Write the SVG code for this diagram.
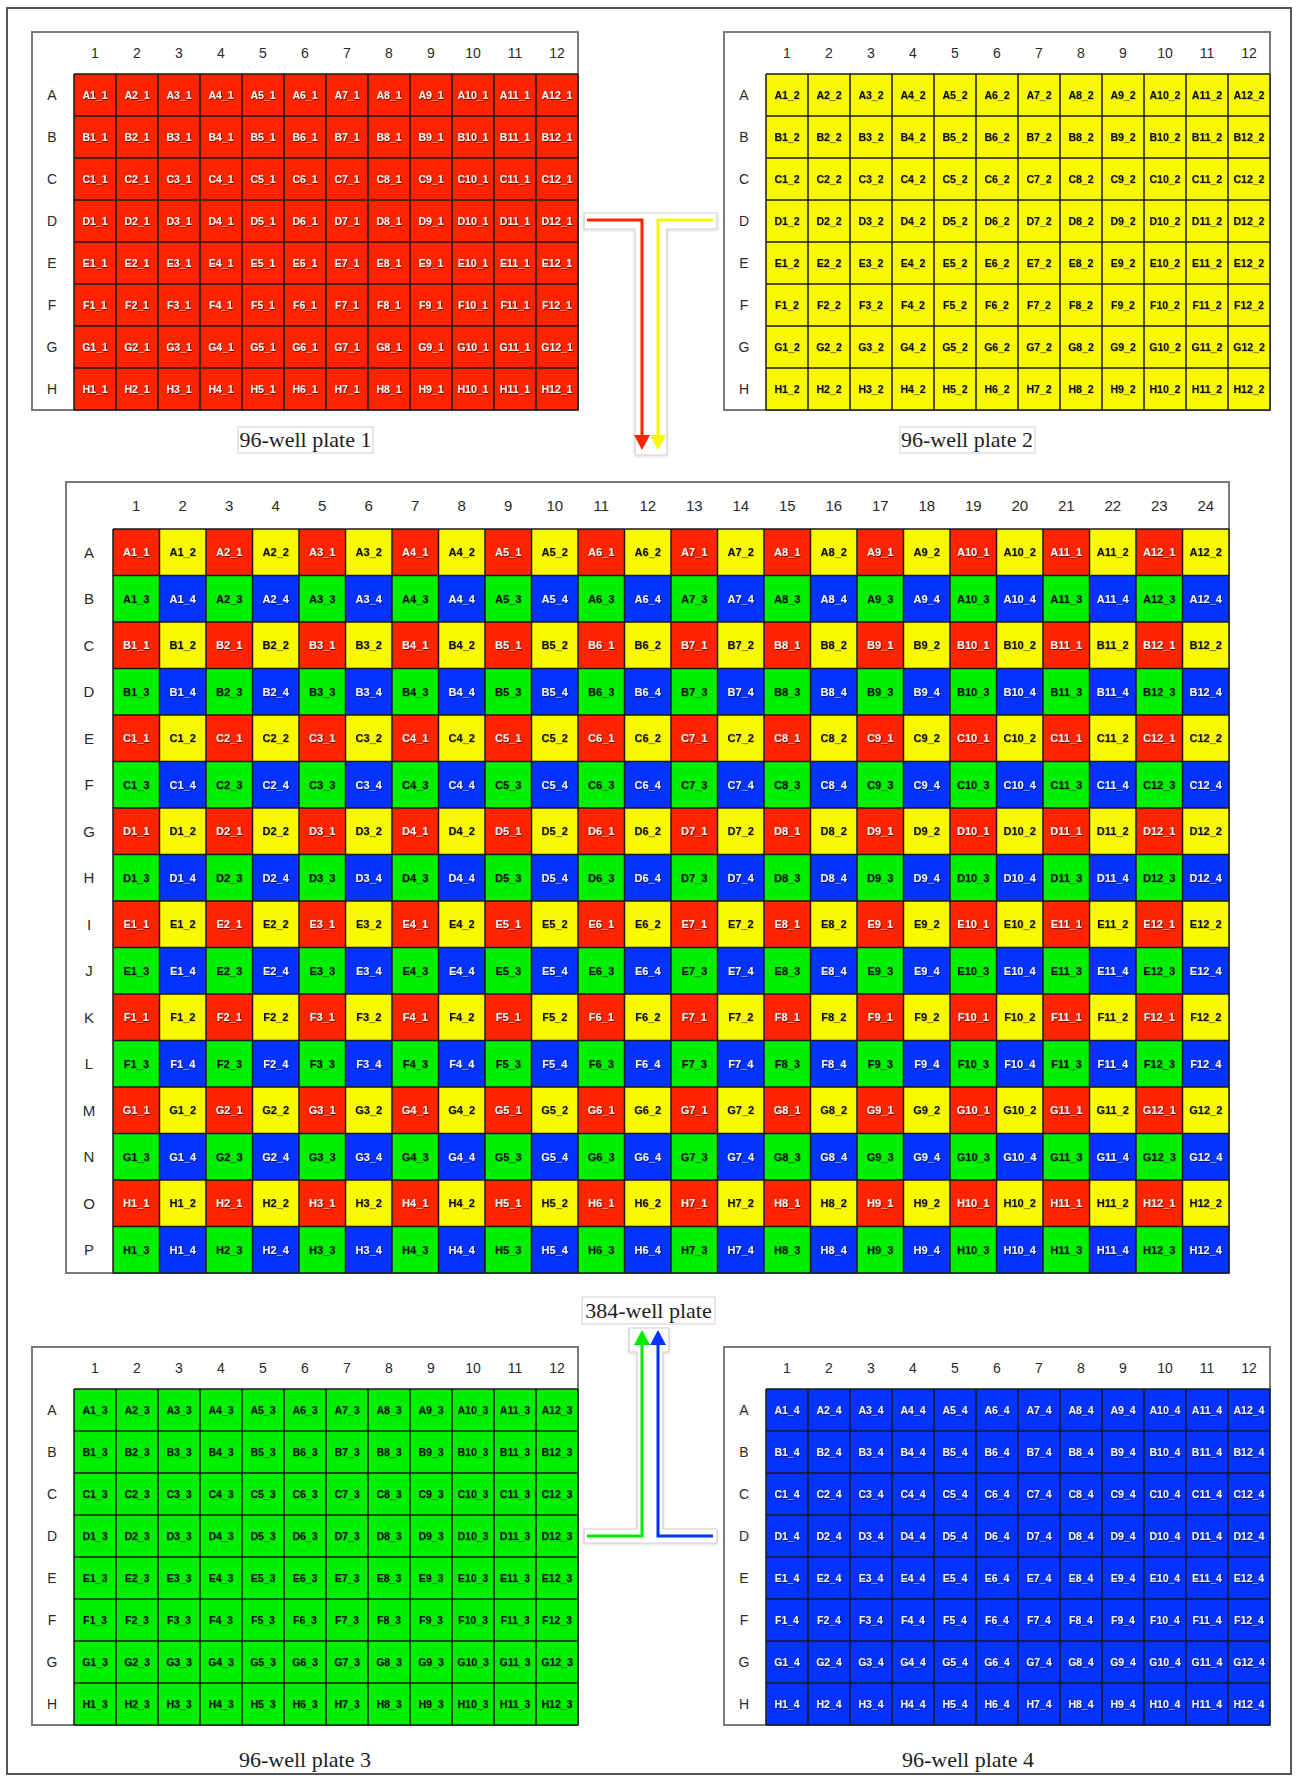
<svg xmlns="http://www.w3.org/2000/svg" xmlns:xlink="http://www.w3.org/1999/xlink" width="1297" height="1780" viewBox="0 0 1297 1780">
<style>
.hd{font-family:"Liberation Sans",Arial,sans-serif;font-size:14px;fill:#2a2a2a;text-anchor:middle}
.hd15{font-size:15px}
.c96{font-family:"Liberation Sans",Arial,sans-serif;font-size:10.5px;font-weight:bold;text-anchor:middle}
.c384{font-family:"Liberation Sans",Arial,sans-serif;font-size:11px;font-weight:bold;text-anchor:middle}
.lt{fill:#f0f0f0}
.dk{fill:#111}
.box{fill:#fff;stroke:#7a7a7a;stroke-width:2}
.grid{fill:none;stroke:#1a1a1a;stroke-width:1.5}
.lab{font-family:"Liberation Serif","Times New Roman",serif;font-size:22px;fill:#1e1e1e;text-anchor:middle}
.labbox{fill:#fff;stroke:#cfcfcf;stroke-width:1}
.halo{fill:#fff;stroke:#d0d0d0;stroke-width:1.2}
.arr{fill:none;stroke-width:3}
</style>
<defs>
<filter id="shd" x="-5%" y="-5%" width="110%" height="110%"><feDropShadow dx="0.8" dy="0.8" stdDeviation="0.6" flood-color="#000" flood-opacity="0.75"/></filter>
<filter id="shl" x="-5%" y="-5%" width="110%" height="110%"><feDropShadow dx="0.5" dy="0.5" stdDeviation="0.5" flood-color="#000" flood-opacity="0.35"/></filter>
<filter id="hs" x="-20%" y="-5%" width="140%" height="110%"><feDropShadow dx="0" dy="1" stdDeviation="1.5" flood-color="#000" flood-opacity="0.15"/></filter>
<marker id="mr" viewBox="0 0 15 16" refX="5" refY="8" markerWidth="15" markerHeight="16" markerUnits="userSpaceOnUse" orient="auto"><path d="M0 0L15 8L0 16Z" fill="#ff2400"/></marker>
<marker id="my" viewBox="0 0 15 16" refX="5" refY="8" markerWidth="15" markerHeight="16" markerUnits="userSpaceOnUse" orient="auto"><path d="M0 0L15 8L0 16Z" fill="#f8f800"/></marker>
<marker id="mg" viewBox="0 0 15 16" refX="5" refY="8" markerWidth="15" markerHeight="16" markerUnits="userSpaceOnUse" orient="auto"><path d="M0 0L15 8L0 16Z" fill="#00ec00"/></marker>
<marker id="mb" viewBox="0 0 15 16" refX="5" refY="8" markerWidth="15" markerHeight="16" markerUnits="userSpaceOnUse" orient="auto"><path d="M0 0L15 8L0 16Z" fill="#0433ff"/></marker>
<pattern id="p384" patternUnits="userSpaceOnUse" x="0" y="0" width="93" height="93">
<rect x="0" y="0" width="46.5" height="46.5" fill="#ff2400"/>
<rect x="46.5" y="0" width="46.5" height="46.5" fill="#f8f800"/>
<rect x="0" y="46.5" width="46.5" height="46.5" fill="#00f000"/>
<rect x="46.5" y="46.5" width="46.5" height="46.5" fill="#0433ff"/>
</pattern>
<g id="frame96">
<rect class="box" x="32" y="32" width="546" height="378"/>
<text class="hd" y="58"><tspan x="95">1</tspan><tspan x="137">2</tspan><tspan x="179">3</tspan><tspan x="221">4</tspan><tspan x="263">5</tspan><tspan x="305">6</tspan><tspan x="347">7</tspan><tspan x="389">8</tspan><tspan x="431">9</tspan><tspan x="473">10</tspan><tspan x="515">11</tspan><tspan x="557">12</tspan></text>
<text class="hd"><tspan x="52" y="100">A</tspan><tspan x="52" y="142">B</tspan><tspan x="52" y="184">C</tspan><tspan x="52" y="226">D</tspan><tspan x="52" y="268">E</tspan><tspan x="52" y="310">F</tspan><tspan x="52" y="352">G</tspan><tspan x="52" y="394">H</tspan></text>
</g>
<path id="g96" class="grid" d="M74 74V410M116 74V410M158 74V410M200 74V410M242 74V410M284 74V410M326 74V410M368 74V410M410 74V410M452 74V410M494 74V410M536 74V410M578 74V410M74 74H578M74 116H578M74 158H578M74 200H578M74 242H578M74 284H578M74 326H578M74 368H578M74 410H578"/>
</defs>
<rect x="0" y="0" width="1297" height="1780" fill="#fff"/>
<rect x="7" y="8" width="1284" height="1766" fill="none" stroke="#555" stroke-width="2"/>

<g id="plate1">
<use href="#frame96"/>
<rect x="74" y="74" width="504" height="336" fill="#ff2400"/>
<use href="#g96"/>
<g class="c96 lt" filter="url(#shd)">
<text y="98.5"><tspan x="95">A1_1</tspan><tspan x="137">A2_1</tspan><tspan x="179">A3_1</tspan><tspan x="221">A4_1</tspan><tspan x="263">A5_1</tspan><tspan x="305">A6_1</tspan><tspan x="347">A7_1</tspan><tspan x="389">A8_1</tspan><tspan x="431">A9_1</tspan><tspan x="473">A10_1</tspan><tspan x="515">A11_1</tspan><tspan x="557">A12_1</tspan></text>
<text y="140.5"><tspan x="95">B1_1</tspan><tspan x="137">B2_1</tspan><tspan x="179">B3_1</tspan><tspan x="221">B4_1</tspan><tspan x="263">B5_1</tspan><tspan x="305">B6_1</tspan><tspan x="347">B7_1</tspan><tspan x="389">B8_1</tspan><tspan x="431">B9_1</tspan><tspan x="473">B10_1</tspan><tspan x="515">B11_1</tspan><tspan x="557">B12_1</tspan></text>
<text y="182.5"><tspan x="95">C1_1</tspan><tspan x="137">C2_1</tspan><tspan x="179">C3_1</tspan><tspan x="221">C4_1</tspan><tspan x="263">C5_1</tspan><tspan x="305">C6_1</tspan><tspan x="347">C7_1</tspan><tspan x="389">C8_1</tspan><tspan x="431">C9_1</tspan><tspan x="473">C10_1</tspan><tspan x="515">C11_1</tspan><tspan x="557">C12_1</tspan></text>
<text y="224.5"><tspan x="95">D1_1</tspan><tspan x="137">D2_1</tspan><tspan x="179">D3_1</tspan><tspan x="221">D4_1</tspan><tspan x="263">D5_1</tspan><tspan x="305">D6_1</tspan><tspan x="347">D7_1</tspan><tspan x="389">D8_1</tspan><tspan x="431">D9_1</tspan><tspan x="473">D10_1</tspan><tspan x="515">D11_1</tspan><tspan x="557">D12_1</tspan></text>
<text y="266.5"><tspan x="95">E1_1</tspan><tspan x="137">E2_1</tspan><tspan x="179">E3_1</tspan><tspan x="221">E4_1</tspan><tspan x="263">E5_1</tspan><tspan x="305">E6_1</tspan><tspan x="347">E7_1</tspan><tspan x="389">E8_1</tspan><tspan x="431">E9_1</tspan><tspan x="473">E10_1</tspan><tspan x="515">E11_1</tspan><tspan x="557">E12_1</tspan></text>
<text y="308.5"><tspan x="95">F1_1</tspan><tspan x="137">F2_1</tspan><tspan x="179">F3_1</tspan><tspan x="221">F4_1</tspan><tspan x="263">F5_1</tspan><tspan x="305">F6_1</tspan><tspan x="347">F7_1</tspan><tspan x="389">F8_1</tspan><tspan x="431">F9_1</tspan><tspan x="473">F10_1</tspan><tspan x="515">F11_1</tspan><tspan x="557">F12_1</tspan></text>
<text y="350.5"><tspan x="95">G1_1</tspan><tspan x="137">G2_1</tspan><tspan x="179">G3_1</tspan><tspan x="221">G4_1</tspan><tspan x="263">G5_1</tspan><tspan x="305">G6_1</tspan><tspan x="347">G7_1</tspan><tspan x="389">G8_1</tspan><tspan x="431">G9_1</tspan><tspan x="473">G10_1</tspan><tspan x="515">G11_1</tspan><tspan x="557">G12_1</tspan></text>
<text y="392.5"><tspan x="95">H1_1</tspan><tspan x="137">H2_1</tspan><tspan x="179">H3_1</tspan><tspan x="221">H4_1</tspan><tspan x="263">H5_1</tspan><tspan x="305">H6_1</tspan><tspan x="347">H7_1</tspan><tspan x="389">H8_1</tspan><tspan x="431">H9_1</tspan><tspan x="473">H10_1</tspan><tspan x="515">H11_1</tspan><tspan x="557">H12_1</tspan></text>
</g>
<rect class="labbox" x="238" y="427" width="135" height="26"/>
<text class="lab" x="305.5" y="447">96-well plate 1</text>
</g>

<g id="plate2" transform="translate(692,0)">
<use href="#frame96"/>
<rect x="74" y="74" width="504" height="336" fill="#f8f800"/>
<use href="#g96"/>
<g class="c96 dk" filter="url(#shl)">
<text y="98.5"><tspan x="95">A1_2</tspan><tspan x="137">A2_2</tspan><tspan x="179">A3_2</tspan><tspan x="221">A4_2</tspan><tspan x="263">A5_2</tspan><tspan x="305">A6_2</tspan><tspan x="347">A7_2</tspan><tspan x="389">A8_2</tspan><tspan x="431">A9_2</tspan><tspan x="473">A10_2</tspan><tspan x="515">A11_2</tspan><tspan x="557">A12_2</tspan></text>
<text y="140.5"><tspan x="95">B1_2</tspan><tspan x="137">B2_2</tspan><tspan x="179">B3_2</tspan><tspan x="221">B4_2</tspan><tspan x="263">B5_2</tspan><tspan x="305">B6_2</tspan><tspan x="347">B7_2</tspan><tspan x="389">B8_2</tspan><tspan x="431">B9_2</tspan><tspan x="473">B10_2</tspan><tspan x="515">B11_2</tspan><tspan x="557">B12_2</tspan></text>
<text y="182.5"><tspan x="95">C1_2</tspan><tspan x="137">C2_2</tspan><tspan x="179">C3_2</tspan><tspan x="221">C4_2</tspan><tspan x="263">C5_2</tspan><tspan x="305">C6_2</tspan><tspan x="347">C7_2</tspan><tspan x="389">C8_2</tspan><tspan x="431">C9_2</tspan><tspan x="473">C10_2</tspan><tspan x="515">C11_2</tspan><tspan x="557">C12_2</tspan></text>
<text y="224.5"><tspan x="95">D1_2</tspan><tspan x="137">D2_2</tspan><tspan x="179">D3_2</tspan><tspan x="221">D4_2</tspan><tspan x="263">D5_2</tspan><tspan x="305">D6_2</tspan><tspan x="347">D7_2</tspan><tspan x="389">D8_2</tspan><tspan x="431">D9_2</tspan><tspan x="473">D10_2</tspan><tspan x="515">D11_2</tspan><tspan x="557">D12_2</tspan></text>
<text y="266.5"><tspan x="95">E1_2</tspan><tspan x="137">E2_2</tspan><tspan x="179">E3_2</tspan><tspan x="221">E4_2</tspan><tspan x="263">E5_2</tspan><tspan x="305">E6_2</tspan><tspan x="347">E7_2</tspan><tspan x="389">E8_2</tspan><tspan x="431">E9_2</tspan><tspan x="473">E10_2</tspan><tspan x="515">E11_2</tspan><tspan x="557">E12_2</tspan></text>
<text y="308.5"><tspan x="95">F1_2</tspan><tspan x="137">F2_2</tspan><tspan x="179">F3_2</tspan><tspan x="221">F4_2</tspan><tspan x="263">F5_2</tspan><tspan x="305">F6_2</tspan><tspan x="347">F7_2</tspan><tspan x="389">F8_2</tspan><tspan x="431">F9_2</tspan><tspan x="473">F10_2</tspan><tspan x="515">F11_2</tspan><tspan x="557">F12_2</tspan></text>
<text y="350.5"><tspan x="95">G1_2</tspan><tspan x="137">G2_2</tspan><tspan x="179">G3_2</tspan><tspan x="221">G4_2</tspan><tspan x="263">G5_2</tspan><tspan x="305">G6_2</tspan><tspan x="347">G7_2</tspan><tspan x="389">G8_2</tspan><tspan x="431">G9_2</tspan><tspan x="473">G10_2</tspan><tspan x="515">G11_2</tspan><tspan x="557">G12_2</tspan></text>
<text y="392.5"><tspan x="95">H1_2</tspan><tspan x="137">H2_2</tspan><tspan x="179">H3_2</tspan><tspan x="221">H4_2</tspan><tspan x="263">H5_2</tspan><tspan x="305">H6_2</tspan><tspan x="347">H7_2</tspan><tspan x="389">H8_2</tspan><tspan x="431">H9_2</tspan><tspan x="473">H10_2</tspan><tspan x="515">H11_2</tspan><tspan x="557">H12_2</tspan></text>
</g>
<rect class="labbox" x="208" y="427" width="135" height="26"/>
<text class="lab" x="275" y="447">96-well plate 2</text>
</g>

<g id="plate384">
<rect class="box" x="66" y="482" width="1163" height="791"/>
<text class="hd hd15" y="511"><tspan x="136.25">1</tspan><tspan x="182.75">2</tspan><tspan x="229.25">3</tspan><tspan x="275.75">4</tspan><tspan x="322.25">5</tspan><tspan x="368.75">6</tspan><tspan x="415.25">7</tspan><tspan x="461.75">8</tspan><tspan x="508.25">9</tspan><tspan x="554.75">10</tspan><tspan x="601.25">11</tspan><tspan x="647.75">12</tspan><tspan x="694.25">13</tspan><tspan x="740.75">14</tspan><tspan x="787.25">15</tspan><tspan x="833.75">16</tspan><tspan x="880.25">17</tspan><tspan x="926.75">18</tspan><tspan x="973.25">19</tspan><tspan x="1019.75">20</tspan><tspan x="1066.25">21</tspan><tspan x="1112.75">22</tspan><tspan x="1159.25">23</tspan><tspan x="1205.75">24</tspan></text>
<text class="hd hd15"><tspan x="89" y="557.5">A</tspan><tspan x="89" y="604">B</tspan><tspan x="89" y="650.5">C</tspan><tspan x="89" y="697">D</tspan><tspan x="89" y="743.5">E</tspan><tspan x="89" y="790">F</tspan><tspan x="89" y="836.5">G</tspan><tspan x="89" y="883">H</tspan><tspan x="89" y="929.5">I</tspan><tspan x="89" y="976">J</tspan><tspan x="89" y="1022.5">K</tspan><tspan x="89" y="1069">L</tspan><tspan x="89" y="1115.5">M</tspan><tspan x="89" y="1162">N</tspan><tspan x="89" y="1208.5">O</tspan><tspan x="89" y="1255">P</tspan></text>
<g transform="translate(113,529)">
<rect x="0" y="0" width="1116" height="744" fill="url(#p384)"/>
<path class="grid" d="M0 0V744M46.5 0V744M93 0V744M139.5 0V744M186 0V744M232.5 0V744M279 0V744M325.5 0V744M372 0V744M418.5 0V744M465 0V744M511.5 0V744M558 0V744M604.5 0V744M651 0V744M697.5 0V744M744 0V744M790.5 0V744M837 0V744M883.5 0V744M930 0V744M976.5 0V744M1023 0V744M1069.5 0V744M1116 0V744M0 0H1116M0 46.5H1116M0 93H1116M0 139.5H1116M0 186H1116M0 232.5H1116M0 279H1116M0 325.5H1116M0 372H1116M0 418.5H1116M0 465H1116M0 511.5H1116M0 558H1116M0 604.5H1116M0 651H1116M0 697.5H1116M0 744H1116"/>
<g class="c384 lt" filter="url(#shd)">
<text y="27.25"><tspan x="23.25">A1_1</tspan><tspan x="116.25">A2_1</tspan><tspan x="209.25">A3_1</tspan><tspan x="302.25">A4_1</tspan><tspan x="395.25">A5_1</tspan><tspan x="488.25">A6_1</tspan><tspan x="581.25">A7_1</tspan><tspan x="674.25">A8_1</tspan><tspan x="767.25">A9_1</tspan><tspan x="860.25">A10_1</tspan><tspan x="953.25">A11_1</tspan><tspan x="1046.25">A12_1</tspan></text>
<text y="73.75"><tspan x="69.75">A1_4</tspan><tspan x="162.75">A2_4</tspan><tspan x="255.75">A3_4</tspan><tspan x="348.75">A4_4</tspan><tspan x="441.75">A5_4</tspan><tspan x="534.75">A6_4</tspan><tspan x="627.75">A7_4</tspan><tspan x="720.75">A8_4</tspan><tspan x="813.75">A9_4</tspan><tspan x="906.75">A10_4</tspan><tspan x="999.75">A11_4</tspan><tspan x="1092.75">A12_4</tspan></text>
<text y="120.25"><tspan x="23.25">B1_1</tspan><tspan x="116.25">B2_1</tspan><tspan x="209.25">B3_1</tspan><tspan x="302.25">B4_1</tspan><tspan x="395.25">B5_1</tspan><tspan x="488.25">B6_1</tspan><tspan x="581.25">B7_1</tspan><tspan x="674.25">B8_1</tspan><tspan x="767.25">B9_1</tspan><tspan x="860.25">B10_1</tspan><tspan x="953.25">B11_1</tspan><tspan x="1046.25">B12_1</tspan></text>
<text y="166.75"><tspan x="69.75">B1_4</tspan><tspan x="162.75">B2_4</tspan><tspan x="255.75">B3_4</tspan><tspan x="348.75">B4_4</tspan><tspan x="441.75">B5_4</tspan><tspan x="534.75">B6_4</tspan><tspan x="627.75">B7_4</tspan><tspan x="720.75">B8_4</tspan><tspan x="813.75">B9_4</tspan><tspan x="906.75">B10_4</tspan><tspan x="999.75">B11_4</tspan><tspan x="1092.75">B12_4</tspan></text>
<text y="213.25"><tspan x="23.25">C1_1</tspan><tspan x="116.25">C2_1</tspan><tspan x="209.25">C3_1</tspan><tspan x="302.25">C4_1</tspan><tspan x="395.25">C5_1</tspan><tspan x="488.25">C6_1</tspan><tspan x="581.25">C7_1</tspan><tspan x="674.25">C8_1</tspan><tspan x="767.25">C9_1</tspan><tspan x="860.25">C10_1</tspan><tspan x="953.25">C11_1</tspan><tspan x="1046.25">C12_1</tspan></text>
<text y="259.75"><tspan x="69.75">C1_4</tspan><tspan x="162.75">C2_4</tspan><tspan x="255.75">C3_4</tspan><tspan x="348.75">C4_4</tspan><tspan x="441.75">C5_4</tspan><tspan x="534.75">C6_4</tspan><tspan x="627.75">C7_4</tspan><tspan x="720.75">C8_4</tspan><tspan x="813.75">C9_4</tspan><tspan x="906.75">C10_4</tspan><tspan x="999.75">C11_4</tspan><tspan x="1092.75">C12_4</tspan></text>
<text y="306.25"><tspan x="23.25">D1_1</tspan><tspan x="116.25">D2_1</tspan><tspan x="209.25">D3_1</tspan><tspan x="302.25">D4_1</tspan><tspan x="395.25">D5_1</tspan><tspan x="488.25">D6_1</tspan><tspan x="581.25">D7_1</tspan><tspan x="674.25">D8_1</tspan><tspan x="767.25">D9_1</tspan><tspan x="860.25">D10_1</tspan><tspan x="953.25">D11_1</tspan><tspan x="1046.25">D12_1</tspan></text>
<text y="352.75"><tspan x="69.75">D1_4</tspan><tspan x="162.75">D2_4</tspan><tspan x="255.75">D3_4</tspan><tspan x="348.75">D4_4</tspan><tspan x="441.75">D5_4</tspan><tspan x="534.75">D6_4</tspan><tspan x="627.75">D7_4</tspan><tspan x="720.75">D8_4</tspan><tspan x="813.75">D9_4</tspan><tspan x="906.75">D10_4</tspan><tspan x="999.75">D11_4</tspan><tspan x="1092.75">D12_4</tspan></text>
<text y="399.25"><tspan x="23.25">E1_1</tspan><tspan x="116.25">E2_1</tspan><tspan x="209.25">E3_1</tspan><tspan x="302.25">E4_1</tspan><tspan x="395.25">E5_1</tspan><tspan x="488.25">E6_1</tspan><tspan x="581.25">E7_1</tspan><tspan x="674.25">E8_1</tspan><tspan x="767.25">E9_1</tspan><tspan x="860.25">E10_1</tspan><tspan x="953.25">E11_1</tspan><tspan x="1046.25">E12_1</tspan></text>
<text y="445.75"><tspan x="69.75">E1_4</tspan><tspan x="162.75">E2_4</tspan><tspan x="255.75">E3_4</tspan><tspan x="348.75">E4_4</tspan><tspan x="441.75">E5_4</tspan><tspan x="534.75">E6_4</tspan><tspan x="627.75">E7_4</tspan><tspan x="720.75">E8_4</tspan><tspan x="813.75">E9_4</tspan><tspan x="906.75">E10_4</tspan><tspan x="999.75">E11_4</tspan><tspan x="1092.75">E12_4</tspan></text>
<text y="492.25"><tspan x="23.25">F1_1</tspan><tspan x="116.25">F2_1</tspan><tspan x="209.25">F3_1</tspan><tspan x="302.25">F4_1</tspan><tspan x="395.25">F5_1</tspan><tspan x="488.25">F6_1</tspan><tspan x="581.25">F7_1</tspan><tspan x="674.25">F8_1</tspan><tspan x="767.25">F9_1</tspan><tspan x="860.25">F10_1</tspan><tspan x="953.25">F11_1</tspan><tspan x="1046.25">F12_1</tspan></text>
<text y="538.75"><tspan x="69.75">F1_4</tspan><tspan x="162.75">F2_4</tspan><tspan x="255.75">F3_4</tspan><tspan x="348.75">F4_4</tspan><tspan x="441.75">F5_4</tspan><tspan x="534.75">F6_4</tspan><tspan x="627.75">F7_4</tspan><tspan x="720.75">F8_4</tspan><tspan x="813.75">F9_4</tspan><tspan x="906.75">F10_4</tspan><tspan x="999.75">F11_4</tspan><tspan x="1092.75">F12_4</tspan></text>
<text y="585.25"><tspan x="23.25">G1_1</tspan><tspan x="116.25">G2_1</tspan><tspan x="209.25">G3_1</tspan><tspan x="302.25">G4_1</tspan><tspan x="395.25">G5_1</tspan><tspan x="488.25">G6_1</tspan><tspan x="581.25">G7_1</tspan><tspan x="674.25">G8_1</tspan><tspan x="767.25">G9_1</tspan><tspan x="860.25">G10_1</tspan><tspan x="953.25">G11_1</tspan><tspan x="1046.25">G12_1</tspan></text>
<text y="631.75"><tspan x="69.75">G1_4</tspan><tspan x="162.75">G2_4</tspan><tspan x="255.75">G3_4</tspan><tspan x="348.75">G4_4</tspan><tspan x="441.75">G5_4</tspan><tspan x="534.75">G6_4</tspan><tspan x="627.75">G7_4</tspan><tspan x="720.75">G8_4</tspan><tspan x="813.75">G9_4</tspan><tspan x="906.75">G10_4</tspan><tspan x="999.75">G11_4</tspan><tspan x="1092.75">G12_4</tspan></text>
<text y="678.25"><tspan x="23.25">H1_1</tspan><tspan x="116.25">H2_1</tspan><tspan x="209.25">H3_1</tspan><tspan x="302.25">H4_1</tspan><tspan x="395.25">H5_1</tspan><tspan x="488.25">H6_1</tspan><tspan x="581.25">H7_1</tspan><tspan x="674.25">H8_1</tspan><tspan x="767.25">H9_1</tspan><tspan x="860.25">H10_1</tspan><tspan x="953.25">H11_1</tspan><tspan x="1046.25">H12_1</tspan></text>
<text y="724.75"><tspan x="69.75">H1_4</tspan><tspan x="162.75">H2_4</tspan><tspan x="255.75">H3_4</tspan><tspan x="348.75">H4_4</tspan><tspan x="441.75">H5_4</tspan><tspan x="534.75">H6_4</tspan><tspan x="627.75">H7_4</tspan><tspan x="720.75">H8_4</tspan><tspan x="813.75">H9_4</tspan><tspan x="906.75">H10_4</tspan><tspan x="999.75">H11_4</tspan><tspan x="1092.75">H12_4</tspan></text>
</g>
<g class="c384 dk" filter="url(#shl)">
<text y="27.25"><tspan x="69.75">A1_2</tspan><tspan x="162.75">A2_2</tspan><tspan x="255.75">A3_2</tspan><tspan x="348.75">A4_2</tspan><tspan x="441.75">A5_2</tspan><tspan x="534.75">A6_2</tspan><tspan x="627.75">A7_2</tspan><tspan x="720.75">A8_2</tspan><tspan x="813.75">A9_2</tspan><tspan x="906.75">A10_2</tspan><tspan x="999.75">A11_2</tspan><tspan x="1092.75">A12_2</tspan></text>
<text y="73.75"><tspan x="23.25">A1_3</tspan><tspan x="116.25">A2_3</tspan><tspan x="209.25">A3_3</tspan><tspan x="302.25">A4_3</tspan><tspan x="395.25">A5_3</tspan><tspan x="488.25">A6_3</tspan><tspan x="581.25">A7_3</tspan><tspan x="674.25">A8_3</tspan><tspan x="767.25">A9_3</tspan><tspan x="860.25">A10_3</tspan><tspan x="953.25">A11_3</tspan><tspan x="1046.25">A12_3</tspan></text>
<text y="120.25"><tspan x="69.75">B1_2</tspan><tspan x="162.75">B2_2</tspan><tspan x="255.75">B3_2</tspan><tspan x="348.75">B4_2</tspan><tspan x="441.75">B5_2</tspan><tspan x="534.75">B6_2</tspan><tspan x="627.75">B7_2</tspan><tspan x="720.75">B8_2</tspan><tspan x="813.75">B9_2</tspan><tspan x="906.75">B10_2</tspan><tspan x="999.75">B11_2</tspan><tspan x="1092.75">B12_2</tspan></text>
<text y="166.75"><tspan x="23.25">B1_3</tspan><tspan x="116.25">B2_3</tspan><tspan x="209.25">B3_3</tspan><tspan x="302.25">B4_3</tspan><tspan x="395.25">B5_3</tspan><tspan x="488.25">B6_3</tspan><tspan x="581.25">B7_3</tspan><tspan x="674.25">B8_3</tspan><tspan x="767.25">B9_3</tspan><tspan x="860.25">B10_3</tspan><tspan x="953.25">B11_3</tspan><tspan x="1046.25">B12_3</tspan></text>
<text y="213.25"><tspan x="69.75">C1_2</tspan><tspan x="162.75">C2_2</tspan><tspan x="255.75">C3_2</tspan><tspan x="348.75">C4_2</tspan><tspan x="441.75">C5_2</tspan><tspan x="534.75">C6_2</tspan><tspan x="627.75">C7_2</tspan><tspan x="720.75">C8_2</tspan><tspan x="813.75">C9_2</tspan><tspan x="906.75">C10_2</tspan><tspan x="999.75">C11_2</tspan><tspan x="1092.75">C12_2</tspan></text>
<text y="259.75"><tspan x="23.25">C1_3</tspan><tspan x="116.25">C2_3</tspan><tspan x="209.25">C3_3</tspan><tspan x="302.25">C4_3</tspan><tspan x="395.25">C5_3</tspan><tspan x="488.25">C6_3</tspan><tspan x="581.25">C7_3</tspan><tspan x="674.25">C8_3</tspan><tspan x="767.25">C9_3</tspan><tspan x="860.25">C10_3</tspan><tspan x="953.25">C11_3</tspan><tspan x="1046.25">C12_3</tspan></text>
<text y="306.25"><tspan x="69.75">D1_2</tspan><tspan x="162.75">D2_2</tspan><tspan x="255.75">D3_2</tspan><tspan x="348.75">D4_2</tspan><tspan x="441.75">D5_2</tspan><tspan x="534.75">D6_2</tspan><tspan x="627.75">D7_2</tspan><tspan x="720.75">D8_2</tspan><tspan x="813.75">D9_2</tspan><tspan x="906.75">D10_2</tspan><tspan x="999.75">D11_2</tspan><tspan x="1092.75">D12_2</tspan></text>
<text y="352.75"><tspan x="23.25">D1_3</tspan><tspan x="116.25">D2_3</tspan><tspan x="209.25">D3_3</tspan><tspan x="302.25">D4_3</tspan><tspan x="395.25">D5_3</tspan><tspan x="488.25">D6_3</tspan><tspan x="581.25">D7_3</tspan><tspan x="674.25">D8_3</tspan><tspan x="767.25">D9_3</tspan><tspan x="860.25">D10_3</tspan><tspan x="953.25">D11_3</tspan><tspan x="1046.25">D12_3</tspan></text>
<text y="399.25"><tspan x="69.75">E1_2</tspan><tspan x="162.75">E2_2</tspan><tspan x="255.75">E3_2</tspan><tspan x="348.75">E4_2</tspan><tspan x="441.75">E5_2</tspan><tspan x="534.75">E6_2</tspan><tspan x="627.75">E7_2</tspan><tspan x="720.75">E8_2</tspan><tspan x="813.75">E9_2</tspan><tspan x="906.75">E10_2</tspan><tspan x="999.75">E11_2</tspan><tspan x="1092.75">E12_2</tspan></text>
<text y="445.75"><tspan x="23.25">E1_3</tspan><tspan x="116.25">E2_3</tspan><tspan x="209.25">E3_3</tspan><tspan x="302.25">E4_3</tspan><tspan x="395.25">E5_3</tspan><tspan x="488.25">E6_3</tspan><tspan x="581.25">E7_3</tspan><tspan x="674.25">E8_3</tspan><tspan x="767.25">E9_3</tspan><tspan x="860.25">E10_3</tspan><tspan x="953.25">E11_3</tspan><tspan x="1046.25">E12_3</tspan></text>
<text y="492.25"><tspan x="69.75">F1_2</tspan><tspan x="162.75">F2_2</tspan><tspan x="255.75">F3_2</tspan><tspan x="348.75">F4_2</tspan><tspan x="441.75">F5_2</tspan><tspan x="534.75">F6_2</tspan><tspan x="627.75">F7_2</tspan><tspan x="720.75">F8_2</tspan><tspan x="813.75">F9_2</tspan><tspan x="906.75">F10_2</tspan><tspan x="999.75">F11_2</tspan><tspan x="1092.75">F12_2</tspan></text>
<text y="538.75"><tspan x="23.25">F1_3</tspan><tspan x="116.25">F2_3</tspan><tspan x="209.25">F3_3</tspan><tspan x="302.25">F4_3</tspan><tspan x="395.25">F5_3</tspan><tspan x="488.25">F6_3</tspan><tspan x="581.25">F7_3</tspan><tspan x="674.25">F8_3</tspan><tspan x="767.25">F9_3</tspan><tspan x="860.25">F10_3</tspan><tspan x="953.25">F11_3</tspan><tspan x="1046.25">F12_3</tspan></text>
<text y="585.25"><tspan x="69.75">G1_2</tspan><tspan x="162.75">G2_2</tspan><tspan x="255.75">G3_2</tspan><tspan x="348.75">G4_2</tspan><tspan x="441.75">G5_2</tspan><tspan x="534.75">G6_2</tspan><tspan x="627.75">G7_2</tspan><tspan x="720.75">G8_2</tspan><tspan x="813.75">G9_2</tspan><tspan x="906.75">G10_2</tspan><tspan x="999.75">G11_2</tspan><tspan x="1092.75">G12_2</tspan></text>
<text y="631.75"><tspan x="23.25">G1_3</tspan><tspan x="116.25">G2_3</tspan><tspan x="209.25">G3_3</tspan><tspan x="302.25">G4_3</tspan><tspan x="395.25">G5_3</tspan><tspan x="488.25">G6_3</tspan><tspan x="581.25">G7_3</tspan><tspan x="674.25">G8_3</tspan><tspan x="767.25">G9_3</tspan><tspan x="860.25">G10_3</tspan><tspan x="953.25">G11_3</tspan><tspan x="1046.25">G12_3</tspan></text>
<text y="678.25"><tspan x="69.75">H1_2</tspan><tspan x="162.75">H2_2</tspan><tspan x="255.75">H3_2</tspan><tspan x="348.75">H4_2</tspan><tspan x="441.75">H5_2</tspan><tspan x="534.75">H6_2</tspan><tspan x="627.75">H7_2</tspan><tspan x="720.75">H8_2</tspan><tspan x="813.75">H9_2</tspan><tspan x="906.75">H10_2</tspan><tspan x="999.75">H11_2</tspan><tspan x="1092.75">H12_2</tspan></text>
<text y="724.75"><tspan x="23.25">H1_3</tspan><tspan x="116.25">H2_3</tspan><tspan x="209.25">H3_3</tspan><tspan x="302.25">H4_3</tspan><tspan x="395.25">H5_3</tspan><tspan x="488.25">H6_3</tspan><tspan x="581.25">H7_3</tspan><tspan x="674.25">H8_3</tspan><tspan x="767.25">H9_3</tspan><tspan x="860.25">H10_3</tspan><tspan x="953.25">H11_3</tspan><tspan x="1046.25">H12_3</tspan></text>
</g>
</g>
<rect class="labbox" x="582" y="1297" width="133" height="27"/>
<text class="lab" x="648.5" y="1318">384-well plate</text>
</g>

<g id="plate3" transform="translate(0,1315)">
<use href="#frame96"/>
<rect x="74" y="74" width="504" height="336" fill="#00f000"/>
<use href="#g96"/>
<g class="c96 dk" filter="url(#shl)">
<text y="98.5"><tspan x="95">A1_3</tspan><tspan x="137">A2_3</tspan><tspan x="179">A3_3</tspan><tspan x="221">A4_3</tspan><tspan x="263">A5_3</tspan><tspan x="305">A6_3</tspan><tspan x="347">A7_3</tspan><tspan x="389">A8_3</tspan><tspan x="431">A9_3</tspan><tspan x="473">A10_3</tspan><tspan x="515">A11_3</tspan><tspan x="557">A12_3</tspan></text>
<text y="140.5"><tspan x="95">B1_3</tspan><tspan x="137">B2_3</tspan><tspan x="179">B3_3</tspan><tspan x="221">B4_3</tspan><tspan x="263">B5_3</tspan><tspan x="305">B6_3</tspan><tspan x="347">B7_3</tspan><tspan x="389">B8_3</tspan><tspan x="431">B9_3</tspan><tspan x="473">B10_3</tspan><tspan x="515">B11_3</tspan><tspan x="557">B12_3</tspan></text>
<text y="182.5"><tspan x="95">C1_3</tspan><tspan x="137">C2_3</tspan><tspan x="179">C3_3</tspan><tspan x="221">C4_3</tspan><tspan x="263">C5_3</tspan><tspan x="305">C6_3</tspan><tspan x="347">C7_3</tspan><tspan x="389">C8_3</tspan><tspan x="431">C9_3</tspan><tspan x="473">C10_3</tspan><tspan x="515">C11_3</tspan><tspan x="557">C12_3</tspan></text>
<text y="224.5"><tspan x="95">D1_3</tspan><tspan x="137">D2_3</tspan><tspan x="179">D3_3</tspan><tspan x="221">D4_3</tspan><tspan x="263">D5_3</tspan><tspan x="305">D6_3</tspan><tspan x="347">D7_3</tspan><tspan x="389">D8_3</tspan><tspan x="431">D9_3</tspan><tspan x="473">D10_3</tspan><tspan x="515">D11_3</tspan><tspan x="557">D12_3</tspan></text>
<text y="266.5"><tspan x="95">E1_3</tspan><tspan x="137">E2_3</tspan><tspan x="179">E3_3</tspan><tspan x="221">E4_3</tspan><tspan x="263">E5_3</tspan><tspan x="305">E6_3</tspan><tspan x="347">E7_3</tspan><tspan x="389">E8_3</tspan><tspan x="431">E9_3</tspan><tspan x="473">E10_3</tspan><tspan x="515">E11_3</tspan><tspan x="557">E12_3</tspan></text>
<text y="308.5"><tspan x="95">F1_3</tspan><tspan x="137">F2_3</tspan><tspan x="179">F3_3</tspan><tspan x="221">F4_3</tspan><tspan x="263">F5_3</tspan><tspan x="305">F6_3</tspan><tspan x="347">F7_3</tspan><tspan x="389">F8_3</tspan><tspan x="431">F9_3</tspan><tspan x="473">F10_3</tspan><tspan x="515">F11_3</tspan><tspan x="557">F12_3</tspan></text>
<text y="350.5"><tspan x="95">G1_3</tspan><tspan x="137">G2_3</tspan><tspan x="179">G3_3</tspan><tspan x="221">G4_3</tspan><tspan x="263">G5_3</tspan><tspan x="305">G6_3</tspan><tspan x="347">G7_3</tspan><tspan x="389">G8_3</tspan><tspan x="431">G9_3</tspan><tspan x="473">G10_3</tspan><tspan x="515">G11_3</tspan><tspan x="557">G12_3</tspan></text>
<text y="392.5"><tspan x="95">H1_3</tspan><tspan x="137">H2_3</tspan><tspan x="179">H3_3</tspan><tspan x="221">H4_3</tspan><tspan x="263">H5_3</tspan><tspan x="305">H6_3</tspan><tspan x="347">H7_3</tspan><tspan x="389">H8_3</tspan><tspan x="431">H9_3</tspan><tspan x="473">H10_3</tspan><tspan x="515">H11_3</tspan><tspan x="557">H12_3</tspan></text>
</g>
<text class="lab" x="305" y="452">96-well plate 3</text>
</g>

<g id="plate4" transform="translate(692,1315)">
<use href="#frame96"/>
<rect x="74" y="74" width="504" height="336" fill="#0433ff"/>
<use href="#g96"/>
<g class="c96 lt" filter="url(#shd)">
<text y="98.5"><tspan x="95">A1_4</tspan><tspan x="137">A2_4</tspan><tspan x="179">A3_4</tspan><tspan x="221">A4_4</tspan><tspan x="263">A5_4</tspan><tspan x="305">A6_4</tspan><tspan x="347">A7_4</tspan><tspan x="389">A8_4</tspan><tspan x="431">A9_4</tspan><tspan x="473">A10_4</tspan><tspan x="515">A11_4</tspan><tspan x="557">A12_4</tspan></text>
<text y="140.5"><tspan x="95">B1_4</tspan><tspan x="137">B2_4</tspan><tspan x="179">B3_4</tspan><tspan x="221">B4_4</tspan><tspan x="263">B5_4</tspan><tspan x="305">B6_4</tspan><tspan x="347">B7_4</tspan><tspan x="389">B8_4</tspan><tspan x="431">B9_4</tspan><tspan x="473">B10_4</tspan><tspan x="515">B11_4</tspan><tspan x="557">B12_4</tspan></text>
<text y="182.5"><tspan x="95">C1_4</tspan><tspan x="137">C2_4</tspan><tspan x="179">C3_4</tspan><tspan x="221">C4_4</tspan><tspan x="263">C5_4</tspan><tspan x="305">C6_4</tspan><tspan x="347">C7_4</tspan><tspan x="389">C8_4</tspan><tspan x="431">C9_4</tspan><tspan x="473">C10_4</tspan><tspan x="515">C11_4</tspan><tspan x="557">C12_4</tspan></text>
<text y="224.5"><tspan x="95">D1_4</tspan><tspan x="137">D2_4</tspan><tspan x="179">D3_4</tspan><tspan x="221">D4_4</tspan><tspan x="263">D5_4</tspan><tspan x="305">D6_4</tspan><tspan x="347">D7_4</tspan><tspan x="389">D8_4</tspan><tspan x="431">D9_4</tspan><tspan x="473">D10_4</tspan><tspan x="515">D11_4</tspan><tspan x="557">D12_4</tspan></text>
<text y="266.5"><tspan x="95">E1_4</tspan><tspan x="137">E2_4</tspan><tspan x="179">E3_4</tspan><tspan x="221">E4_4</tspan><tspan x="263">E5_4</tspan><tspan x="305">E6_4</tspan><tspan x="347">E7_4</tspan><tspan x="389">E8_4</tspan><tspan x="431">E9_4</tspan><tspan x="473">E10_4</tspan><tspan x="515">E11_4</tspan><tspan x="557">E12_4</tspan></text>
<text y="308.5"><tspan x="95">F1_4</tspan><tspan x="137">F2_4</tspan><tspan x="179">F3_4</tspan><tspan x="221">F4_4</tspan><tspan x="263">F5_4</tspan><tspan x="305">F6_4</tspan><tspan x="347">F7_4</tspan><tspan x="389">F8_4</tspan><tspan x="431">F9_4</tspan><tspan x="473">F10_4</tspan><tspan x="515">F11_4</tspan><tspan x="557">F12_4</tspan></text>
<text y="350.5"><tspan x="95">G1_4</tspan><tspan x="137">G2_4</tspan><tspan x="179">G3_4</tspan><tspan x="221">G4_4</tspan><tspan x="263">G5_4</tspan><tspan x="305">G6_4</tspan><tspan x="347">G7_4</tspan><tspan x="389">G8_4</tspan><tspan x="431">G9_4</tspan><tspan x="473">G10_4</tspan><tspan x="515">G11_4</tspan><tspan x="557">G12_4</tspan></text>
<text y="392.5"><tspan x="95">H1_4</tspan><tspan x="137">H2_4</tspan><tspan x="179">H3_4</tspan><tspan x="221">H4_4</tspan><tspan x="263">H5_4</tspan><tspan x="305">H6_4</tspan><tspan x="347">H7_4</tspan><tspan x="389">H8_4</tspan><tspan x="431">H9_4</tspan><tspan x="473">H10_4</tspan><tspan x="515">H11_4</tspan><tspan x="557">H12_4</tspan></text>
</g>
<text class="lab" x="276" y="452">96-well plate 4</text>
</g>

<g id="connectors">
<path class="halo" filter="url(#hs)" d="M584 213H717V229H667V455H635V229H584Z"/>
<path class="halo" filter="url(#hs)" d="M584 1543H717V1529H663V1352H669V1328H629V1352H637V1529H584Z"/>
<path class="arr" stroke="#ff2400" marker-end="url(#mr)" d="M587 220H642V440"/>
<path class="arr" stroke="#f8f800" marker-end="url(#my)" d="M713 220H658V440"/>
<path class="arr" stroke="#00ec00" marker-end="url(#mg)" d="M587 1536H642V1340"/>
<path class="arr" stroke="#0433ff" marker-end="url(#mb)" d="M713 1536H658V1340"/>
</g>
</svg>
